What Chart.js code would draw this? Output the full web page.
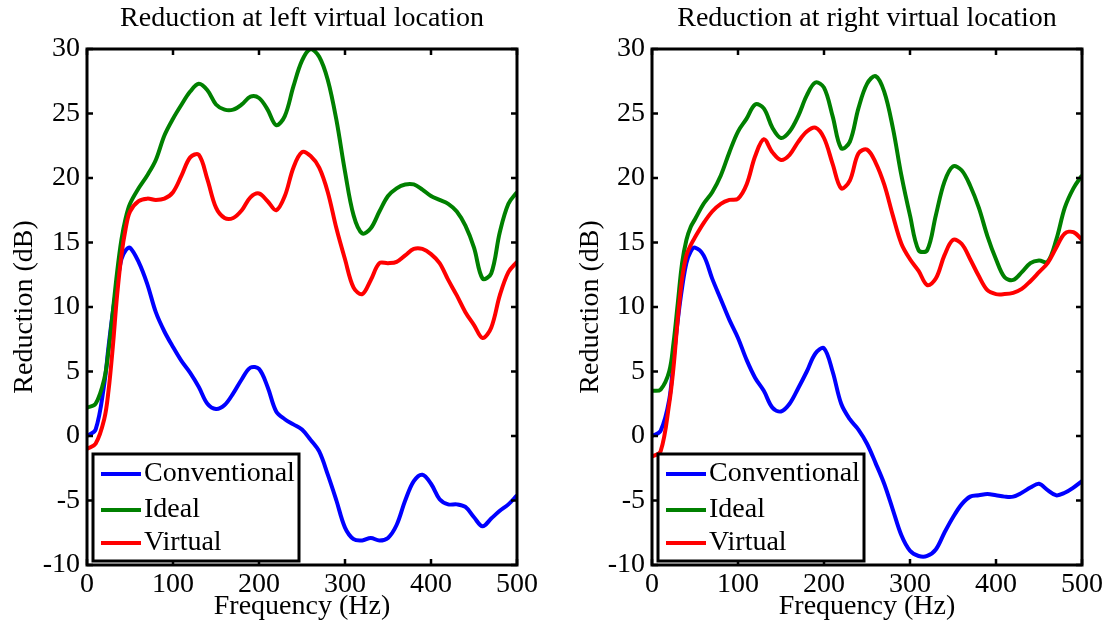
<!DOCTYPE html>
<html><head><meta charset="utf-8">
<script src="https://cdn.jsdelivr.net/npm/chart.js@4"></script>
<style>
html,body{margin:0;padding:0;background:#fff;width:1107px;height:627px;overflow:hidden}
.panel{position:absolute;top:0;height:627px}
#pl{left:0;width:560px}
#pr{left:560px;width:547px}
</style></head><body>
<div class="panel" id="pl"><canvas id="cl"></canvas></div>
<div class="panel" id="pr"><canvas id="cr"></canvas></div>
<script>
const FREQ = [0,10,20,25,30,35,40,45,50,60,70,80,90,100,110,120,130,140,150,160,170,180,190,200,210,220,230,240,250,260,270,280,290,300,310,320,330,340,350,360,370,380,390,400,410,420,430,440,450,460,470,480,490,500];
const SERIES_NAMES = ['Conventional','Ideal','Virtual'];
const SERIES_COLORS = ['#0000ff','#008000','#ff0000'];
const PANEL_TITLES = ['Reduction at left virtual location','Reduction at right virtual location'];
const X_LABEL = 'Frequency (Hz)';
const Y_LABEL = 'Reduction (dB)';

const LEFT_CONVENTIONAL = [0,0.5,4.0,6.9,9.6,11.8,13.7,14.4,14.6,13.5,11.8,9.6,8.1,6.9,5.8,4.9,3.8,2.5,2.1,2.4,3.3,4.4,5.3,5.2,3.8,1.9,1.3,0.9,0.5,-0.3,-1.2,-3,-5,-7.1,-8,-8.1,-7.9,-8.1,-7.9,-6.9,-5,-3.5,-3,-3.7,-4.9,-5.3,-5.3,-5.5,-6.3,-7,-6.4,-5.8,-5.3,-4.6];
const LEFT_IDEAL = [2.2,2.5,4.4,6.6,9.6,12.7,15.2,16.9,18,19.2,20.2,21.4,23.3,24.6,25.7,26.7,27.3,26.8,25.7,25.3,25.3,25.7,26.3,26.2,25.3,24.1,24.8,27.1,29.1,30,29.4,27.6,24.5,20.5,17.1,15.7,16.1,17.4,18.6,19.2,19.5,19.5,19.1,18.6,18.3,18,17.4,16.3,14.6,12.2,12.6,15.8,18,18.9];
const LEFT_VIRTUAL = [-1.0,-0.6,1.3,3.5,6.9,10.9,14,16.1,17.4,18.2,18.4,18.3,18.4,18.9,20.2,21.6,21.8,19.9,17.7,16.9,16.9,17.5,18.5,18.8,18.2,17.5,18.6,20.8,22,21.7,20.8,18.9,16.1,13.7,11.5,11,12.1,13.4,13.4,13.5,14,14.5,14.5,14.1,13.4,12.1,10.9,9.6,8.6,7.6,8.4,10.9,12.7,13.5];

const RIGHT_CONVENTIONAL = [0,0.4,2.8,5.9,9,11.5,13.4,14.3,14.6,14,12.2,10.6,9,7.6,5.9,4.5,3.5,2.2,1.9,2.5,3.7,5,6.4,6.8,5,2.5,1.3,0.5,-0.6,-2.1,-3.7,-5.7,-7.7,-8.9,-9.3,-9.3,-8.8,-7.5,-6.3,-5.3,-4.7,-4.6,-4.5,-4.6,-4.7,-4.7,-4.4,-4,-3.7,-4.2,-4.6,-4.4,-4,-3.5];
const RIGHT_IDEAL = [3.5,3.6,5,7.2,10.3,13.4,15.2,16.2,16.8,18,18.9,20.2,22,23.6,24.6,25.7,25.4,23.9,23.1,23.6,24.8,26.4,27.4,27,24.8,22.3,22.8,25.4,27.3,27.9,26.7,23.9,20.2,17.1,14.4,14.4,17.1,19.7,20.9,20.6,19.4,17.7,15.5,13.7,12.3,12.1,12.7,13.4,13.6,13.5,15.2,17.7,19.2,20.2];
const RIGHT_VIRTUAL = [-1.6,-1.2,2.5,5.3,9.1,12.2,14,14.8,15.4,16.5,17.4,18,18.3,18.4,19.5,21.7,23,22,21.4,21.8,22.8,23.6,23.9,23.1,21.1,19.2,19.8,21.9,22.2,21.2,19.5,17.1,14.9,13.7,12.8,11.7,12.2,14,15.2,14.9,13.7,12.4,11.3,11,11,11.1,11.4,12,12.7,13.4,14.6,15.7,15.8,15.2];

const Y_MIN = -10, Y_MAX = 30, Y_STEP = 5;
const X_MIN = 0, X_MAX = 500, X_STEP = 100;

const FONT = "'Liberation Serif','Times New Roman',serif";
const FS = 28;

const boxPlugin = {
  id: 'matlabBox',
  afterDatasetsDraw(chart) {
    const {ctx, chartArea: a, scales: {x, y}} = chart;
    ctx.save();
    ctx.strokeStyle = '#000';
    ctx.lineWidth = 2.5;
    ctx.beginPath();
    x.ticks.forEach(t => {
      const px = x.getPixelForValue(t.value);
      ctx.moveTo(px, a.bottom); ctx.lineTo(px, a.bottom - 6);
      ctx.moveTo(px, a.top); ctx.lineTo(px, a.top + 6);
    });
    y.ticks.forEach(t => {
      const py = y.getPixelForValue(t.value);
      ctx.moveTo(a.left, py); ctx.lineTo(a.left + 6, py);
      ctx.moveTo(a.right, py); ctx.lineTo(a.right - 6, py);
    });
    ctx.stroke();
    ctx.lineWidth = 3;
    ctx.strokeRect(a.left, a.top, a.right - a.left, a.bottom - a.top);
    ctx.restore();
  },
  afterDraw(chart) {
    const {ctx, chartArea: a} = chart;
    const L = a.left + 6, T = a.bottom - 111, W = 206, H = 107;
    const rows = [20, 56, 89];
    ctx.save();
    ctx.fillStyle = '#fff';
    ctx.fillRect(L, T, W, H);
    ctx.lineWidth = 3;
    ctx.strokeStyle = '#000';
    ctx.strokeRect(L, T, W, H);
    ctx.font = FS + 'px ' + FONT;
    ctx.textBaseline = 'middle';
    chart.data.datasets.forEach((ds, i) => {
      const yy = T + rows[i];
      ctx.strokeStyle = ds.borderColor;
      ctx.lineWidth = 4;
      ctx.beginPath(); ctx.moveTo(L + 8, yy); ctx.lineTo(L + 48, yy); ctx.stroke();
      ctx.fillStyle = '#000';
      ctx.fillText(ds.label, L + 51, yy);
    });
    ctx.restore();
  }
};

function makePanel(id, title, series, yWidth, yTitlePad, padRight) {
  const datasets = series.map((vals, i) => ({
    label: SERIES_NAMES[i],
    data: FREQ.map((f, k) => ({x: f, y: vals[k]})),
    borderColor: SERIES_COLORS[i],
    backgroundColor: SERIES_COLORS[i],
    borderWidth: 4,
    pointRadius: 0,
    tension: 0.35,
    fill: false,
    order: 2 - i
  }));
  return new Chart(document.getElementById(id), {
    type: 'line',
    data: {datasets},
    plugins: [boxPlugin],
    options: {
      responsive: true,
      maintainAspectRatio: false,
      animation: false,
      devicePixelRatio: 1,
      layout: {padding: {left: 0, right: padRight, top: 0, bottom: 0}},
      plugins: {
        legend: {display: false},
        tooltip: {enabled: false},
        title: {
          display: true, text: title, fullSize: false, color: '#000',
          font: {family: FONT, size: FS, weight: 'normal'},
          padding: {top: 2.2, bottom: 13.2}
        }
      },
      scales: {
        x: {
          type: 'linear', min: X_MIN, max: X_MAX,
          grid: {display: false, drawTicks: false}, border: {display: false},
          ticks: {stepSize: X_STEP, color: '#000', padding: 3, maxRotation: 0,
                  font: {family: FONT, size: FS}},
          title: {display: true, text: X_LABEL, color: '#000',
                  font: {family: FONT, size: FS}, padding: {top: 0, bottom: 3.2}},
          afterFit(s) { s.height = 62; }
        },
        y: {
          type: 'linear', min: Y_MIN, max: Y_MAX,
          grid: {display: false, drawTicks: false}, border: {display: false},
          ticks: {stepSize: Y_STEP, color: '#000', padding: 7,
                  font: {family: FONT, size: FS}},
          title: {display: true, text: Y_LABEL, color: '#000',
                  font: {family: FONT, size: FS}, padding: {top: yTitlePad, bottom: 0}},
          afterFit(s) { s.width = yWidth; }
        }
      }
    }
  });
}

makePanel('cl', PANEL_TITLES[0], [LEFT_CONVENTIONAL, LEFT_IDEAL, LEFT_VIRTUAL], 87, 8.2, 43);
makePanel('cr', PANEL_TITLES[1], [RIGHT_CONVENTIONAL, RIGHT_IDEAL, RIGHT_VIRTUAL], 92, 14.2, 25);
</script>
</body></html>
